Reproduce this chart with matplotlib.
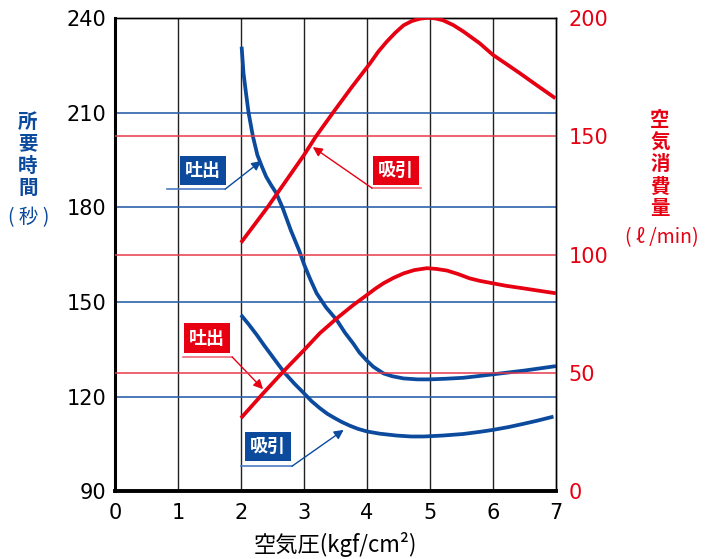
import matplotlib
matplotlib.use("Agg")
import matplotlib.pyplot as plt

plt.rcParams['font.family'] = ['Noto Sans CJK JP', 'DejaVu Sans']

BLUE = "#0b4a9c"
RED = "#e60012"

# air pressure (kgf/cm2) vs required time (s) -- discharge
x_dis_time = [2.01, 2.04, 2.08, 2.12, 2.19, 2.26, 2.33, 2.40, 2.48, 2.56, 2.66, 2.79, 2.93, 3.0,
              3.10, 3.20, 3.35, 3.52, 3.65, 3.78, 3.88, 3.99, 4.10, 4.26, 4.40, 4.58, 4.80,
              5.0, 5.25, 5.53, 5.75, 6.0, 6.5, 7.0]
dis_time = [230.9, 222.5, 216.1, 210.0, 202.4, 196.6, 193.0, 189.7, 187.0, 184.5, 179.9, 172.8,
            166.0, 162.0, 157.2, 152.8, 148.3, 144.3, 140.3, 136.9, 134.0, 131.6, 129.5, 127.4,
            126.5, 125.8, 125.5, 125.5, 125.7, 126.0, 126.5, 127.1, 128.3, 129.7]

# required time (s) -- suction
x_suc_time = [2.0, 2.12, 2.25, 2.37, 2.5, 2.60, 2.70, 2.85, 3.0, 3.12, 3.25, 3.37, 3.49, 3.60,
              3.73, 3.86, 4.0, 4.2, 4.47, 4.7, 4.90, 5.2, 5.53, 5.8, 6.0, 6.25, 6.48, 6.7,
              6.96]
suc_time = [145.9, 143.0, 139.6, 136.2, 132.7, 130.0, 127.4, 124.1, 121.1, 118.6, 116.4, 114.6,
            113.2, 112.0, 110.8, 109.8, 109.0, 108.3, 107.7, 107.4, 107.4, 107.7, 108.2, 108.9,
            109.5, 110.4, 111.4, 112.4, 113.7]

# air consumption (l/min) -- suction
x_suc_air = [2.0, 2.42, 3.0, 3.19, 3.46, 3.75, 4.05, 4.18, 4.31, 4.45, 4.58, 4.71, 4.84, 4.97,
             5.09, 5.21, 5.37, 5.53, 5.66, 5.79, 6.0, 6.2, 6.43, 6.7, 6.99]
suc_air = [105.1, 120.0, 142.1, 150.0, 160.0, 170.5, 180.9, 185.8, 189.9, 193.8, 196.9, 198.7,
           199.7, 200.1, 199.8, 199.0, 197.0, 194.3, 191.8, 189.3, 184.4, 180.8, 176.6, 171.5,
           166.1]

# air consumption (l/min) -- discharge
x_dis_air = [2.0, 2.35, 2.67, 3.0, 3.25, 3.52, 3.78, 4.0, 4.13, 4.26, 4.42, 4.58, 4.75, 4.95,
             5.1, 5.27, 5.45, 5.63, 5.8, 6.0, 6.2, 6.48, 6.75, 7.0]
dis_air = [31.0, 41.4, 50.6, 59.7, 66.8, 73.1, 78.7, 83.0, 85.6, 87.9, 90.2, 92.1, 93.5, 94.3,
           94.0, 93.3, 91.8, 90.0, 88.9, 87.9, 86.9, 85.8, 84.7, 83.7]

x_ticks = [0, 1, 2, 3, 4, 5, 6, 7]
left_ticks = [90, 120, 150, 180, 210, 240]
right_ticks = [0, 50, 100, 150, 200]

W, H = 706, 559
fig = plt.figure(figsize=(W / 100, H / 100), dpi=100)
ax = fig.add_axes([0.1629, 0.1209, 0.6246, 0.8469])
ax2 = ax.twinx()

ax.set_xlim(0, 7)
ax.set_ylim(90, 240)
ax2.set_ylim(0, 200)

# grid
for xv in x_ticks[1:-1]:
    ax.axvline(xv, color="#222222", lw=1.0, zorder=1)
for yv in [120, 150, 180, 210]:
    ax.axhline(yv, color="#2f62ad", lw=1.2, zorder=1)
for yv in [50, 100, 150]:
    ax2.axhline(yv, color="#e83a4a", lw=1.1, zorder=1)

kw = dict(lw=2.7, zorder=3, solid_capstyle="butt", solid_joinstyle="round")
ax.plot(x_dis_time, dis_time, color=BLUE, **kw)
ax.plot(x_suc_time, suc_time, color=BLUE, **kw)
ax2.plot(x_suc_air, suc_air, color=RED, **kw)
ax2.plot(x_dis_air, dis_air, color=RED, **kw)

ax.set_xticks(x_ticks)
ax.set_yticks(left_ticks)
ax2.set_yticks(right_ticks)
ax.tick_params(axis="both", length=0, labelsize=15, pad=6)
ax.tick_params(axis="x", pad=8)
ax2.tick_params(axis="y", length=0, labelsize=15, pad=9, labelcolor=RED)
for t in ax.get_xticklabels() + ax.get_yticklabels() + ax2.get_yticklabels():
    t.set_fontfamily("DejaVu Sans")

for s in ["top", "right"]:
    ax.spines[s].set_linewidth(1.0)
    ax2.spines[s].set_linewidth(1.0)
ax.spines["left"].set_linewidth(2.2)
ax.spines["bottom"].set_linewidth(2.8)
ax2.spines["left"].set_visible(False)
ax2.spines["bottom"].set_visible(False)

ax.set_xlabel("空気圧(kgf/cm²)", fontsize=16, labelpad=7)

# axis titles, one character per line (pixel positions from the top)
for i, ch in enumerate("所要時間"):
    fig.text(28 / W, 1 - (122 + 22 * i) / H, ch, color=BLUE, fontsize=14, fontweight="bold",
             ha="center", va="center")
fig.text(29 / W, 1 - 218 / H, "( 秒 )", color=BLUE, fontsize=14, ha="center", va="center")
for i, ch in enumerate("空気消費量"):
    fig.text(660 / W, 1 - (121 + 22 * i) / H, ch, color=RED, fontsize=14, fontweight="bold",
             ha="center", va="center")
fig.text(662 / W, 1 - 238 / H, "( ℓ /min)", color=RED, fontsize=14, ha="center", va="center")


def label(axis, text, color, box_xy, line_x, line_y, tip, line_color):
    axis.text(box_xy[0], box_xy[1], text, color="white", fontsize=13, fontweight="bold",
              ha="center", va="center", zorder=5,
              bbox=dict(boxstyle="square,pad=0.28", fc=color, ec="none"))
    axis.plot(line_x, line_y, color=line_color, lw=1.2, zorder=4)
    start = (line_x[1], line_y[1]) if tip[0] > line_x[1] else (line_x[0], line_y[0])
    axis.annotate("", xy=tip, xytext=start, zorder=4,
                  arrowprops=dict(arrowstyle="-|>", color=color, lw=1.0,
                                  mutation_scale=14, shrinkA=0, shrinkB=0))


label(ax, "吐出", BLUE, (1.40, 191.8), [0.83, 1.75], [185.8, 185.8], (2.32, 194.7), "#4a7cc4")
label(ax, "吸引", RED, (4.46, 191.8), [4.08, 4.86], [186.1, 186.1], (3.14, 199.1), "#f06a78")
label(ax, "吐出", RED, (1.46, 138.6), [1.08, 1.86], [132.6, 132.6], (2.35, 122.4), "#f06a78")
label(ax, "吸引", BLUE, (2.43, 104.1), [2.0, 2.81], [98.0, 98.0], (3.63, 109.5), "#4a7cc4")

fig.savefig("out.png", dpi=100)
